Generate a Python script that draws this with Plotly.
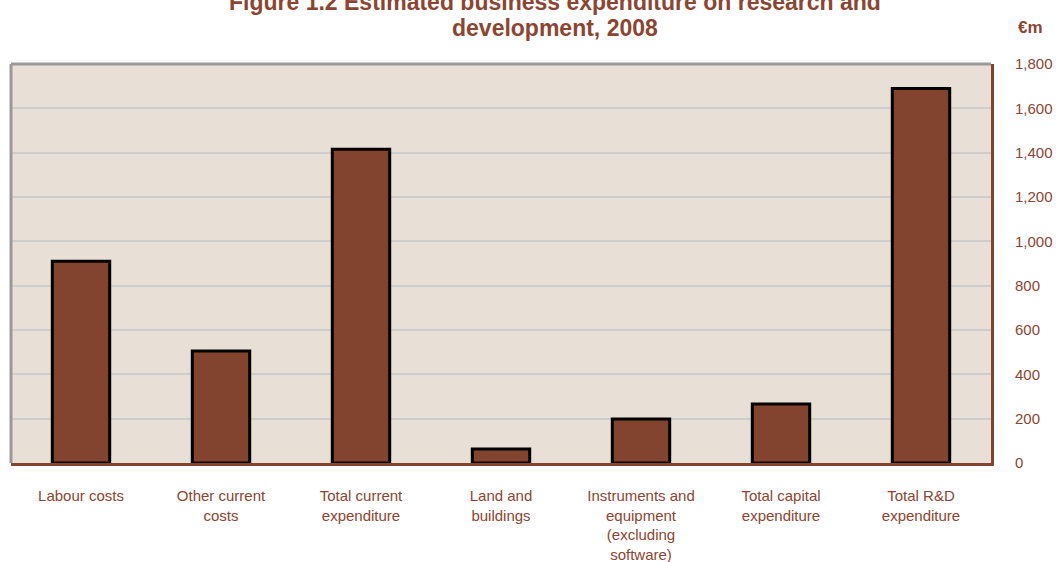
import plotly.graph_objects as go

# Business R&D expenditure by component, 2008 (EUR million)
categories = [
    "Labour costs",
    "Other current<br>costs",
    "Total current<br>expenditure",
    "Land and<br>buildings",
    "Instruments and<br>equipment<br>(excluding<br>software)",
    "Total capital<br>expenditure",
    "Total R&D<br>expenditure",
]
values = [910, 505, 1415, 63, 198, 266, 1690]
y_ticks = [0, 200, 400, 600, 800, 1000, 1200, 1400, 1600, 1800]
y_tick_labels = ["0", "200", "400", "600", "800", "1,000", "1,200", "1,400", "1,600", "1,800"]

BROWN = "#82442E"
TEXT = "#8B4532"
BG = "#E8DFD6"

fig = go.Figure(
    go.Bar(
        x=categories,
        y=values,
        marker=dict(color=BROWN, line=dict(color="#000000", width=3)),
        width=0.41,
    )
)

fig.update_layout(
    width=1059,
    height=562,
    margin=dict(l=11, r=68, t=64, b=99),
    paper_bgcolor="white",
    plot_bgcolor=BG,
    showlegend=False,
    font=dict(family="Liberation Sans, Arial, sans-serif", size=15, color=TEXT),
)

fig.update_xaxes(
    automargin=False,
    showline=True,
    linecolor=BROWN,
    linewidth=3,
    showgrid=False,
    ticks="outside",
    ticklen=17,
    tickcolor="rgba(0,0,0,0)",
    tickfont=dict(size=15, color=TEXT),
)

fig.update_yaxes(
    automargin=False,
    side="right",
    range=[0, 1800],
    tickvals=y_ticks,
    ticktext=y_tick_labels,
    showline=True,
    linecolor=BROWN,
    linewidth=3,
    showgrid=True,
    gridcolor="#CDCDCD",
    gridwidth=2,
    zeroline=False,
    ticks="outside",
    ticklen=18,
    tickcolor="rgba(0,0,0,0)",
    tickfont=dict(size=15, color=TEXT),
)

# Grey frame on the left and top edges of the plot area
fig.add_shape(type="line", xref="paper", yref="paper", x0=0, x1=0, y0=0, y1=1,
              line=dict(color="#999999", width=3))
fig.add_shape(type="line", xref="paper", yref="paper", x0=0, x1=1, y0=1, y1=1,
              line=dict(color="#999999", width=3))

# Title, two lines placed separately
title_font = dict(family="Liberation Sans Narrow, Arial Narrow, Liberation Sans, Arial",
                  size=23, color=TEXT, weight="bold")
fig.add_annotation(
    text="Figure 1.2 Estimated business expenditure on research and",
    xref="paper", yref="paper", x=0.555, y=(463 - 2) / 399,
    xanchor="center", yanchor="middle", showarrow=False, font=title_font,
)
fig.add_annotation(
    text="development, 2008",
    xref="paper", yref="paper", x=0.555, y=(463 - 28) / 399,
    xanchor="center", yanchor="middle", showarrow=False, font=title_font,
)

# Unit label above the value axis
fig.add_annotation(
    text="<b>€m</b>",
    xref="paper", yref="paper", x=(1030 - 11) / 980, y=(463 - 27) / 399,
    xanchor="center", yanchor="middle", showarrow=False,
    font=dict(size=17, color=TEXT),
)

fig.write_html("out.html")
